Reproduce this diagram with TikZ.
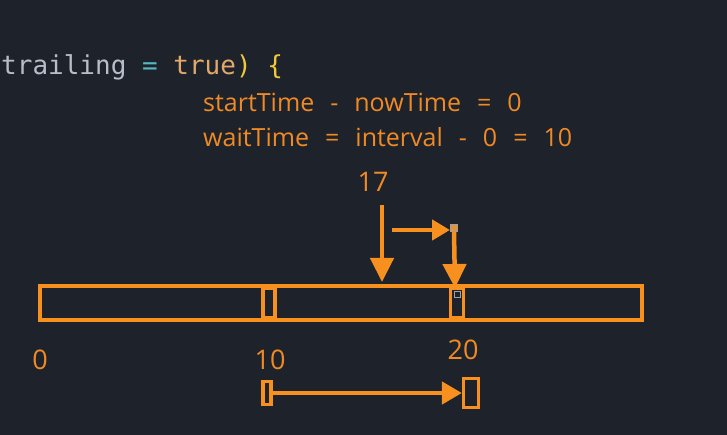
\documentclass[tikz,border=0pt]{standalone}
\usepackage{fontspec}
\setmainfont{Open Sans}
\newfontfamily\codefont{DejaVu Sans Mono}
\usetikzlibrary{arrows.meta}
\definecolor{bgc}{HTML}{1E222B}
\definecolor{org}{HTML}{F7901E}
\definecolor{otext}{HTML}{F08A24}
\definecolor{codegrey}{HTML}{B8BEC8}
\definecolor{codecyan}{HTML}{56B6C2}
\definecolor{codetrue}{HTML}{E0A86A}
\definecolor{codeyel}{HTML}{EFC93A}
\definecolor{sqgrey}{HTML}{A0A0A0}
\newcommand\widesp{\spaceskip=16pt\relax}
\begin{document}
\begin{tikzpicture}[x=1pt,y=-1pt,
  lbl/.style={text=otext,font=\fontsize{25}{28}\selectfont\widesp,inner sep=0pt,anchor=base west},
  numlbl/.style={text=otext,font=\fontsize{27}{30}\selectfont,inner sep=0pt,anchor=base},
  obox/.style={draw=org,line width=3.2pt,inner sep=0pt,fill=bgc},
  gsq/.style={draw=sqgrey,line width=1pt,inner sep=0pt,minimum size=7pt},
  arr/.style={draw=org,line width=4.5pt,-{Triangle[width=23pt,length=24pt]}},
  arrs/.style={draw=org,line width=4.5pt,-{Triangle[width=20pt,length=18pt]}}]
\fill[bgc] (0,0) rectangle (727,435);
\useasboundingbox (0,0) rectangle (727,435);
% code line
\node[inner sep=0pt,anchor=base west,font=\codefont\fontsize{26}{30}\selectfont] (code) at (1,75)
  {\textcolor{codegrey}{trailing} \textcolor{codecyan}{=} \textcolor{codetrue}{true}\textcolor{codeyel}{)} \textcolor{codeyel}{\{}};
\node[lbl] (l1) at (203,112) {startTime - nowTime = 0};
\node[lbl] (l2) at (203,147) {waitTime = interval - 0 = 10};
\node[numlbl] (n17) at (373,192) {17};
% bar
\node[obox,minimum width=602pt,minimum height=34pt] (bar) at (341,303) {};
\node[obox,minimum width=12pt,minimum height=29pt] (m10) at (269,303) {};
\node[obox,minimum width=13pt,minimum height=29pt] (m20) at (457,303) {};
\node[gsq,fill=bgc,minimum size=6pt] (sqb) at (457,294) {};
% labels
\node[numlbl] (n0) at (40,369) {0};
\node[numlbl] (n10) at (270,369) {10};
\node[numlbl] (n20) at (463,359) {20};
% top arrows
\coordinate (a1s) at (382,205);
\coordinate (a1e) at (382,282);
\draw[arr] (a1s) -- (a1e);
\node[gsq,fill=org!80!sqgrey] (sqt) at (454,228) {};
\coordinate (a2s) at (392,230);
\draw[arrs] (a2s) -- (sqt.west |- a2s);
\coordinate (a3e) at (455,288);
\draw[arr] (sqt.south) -- (a3e);
% bottom
\node[obox,minimum width=8pt,minimum height=23pt] (bl) at (267,393) {};
\node[obox,minimum width=15pt,minimum height=29pt] (br) at (471,393) {};
\draw[draw=org,line width=4.5pt,-{Triangle[width=22pt,length=20pt]}] (bl.east) -- (br.west);
\end{tikzpicture}
\end{document}
